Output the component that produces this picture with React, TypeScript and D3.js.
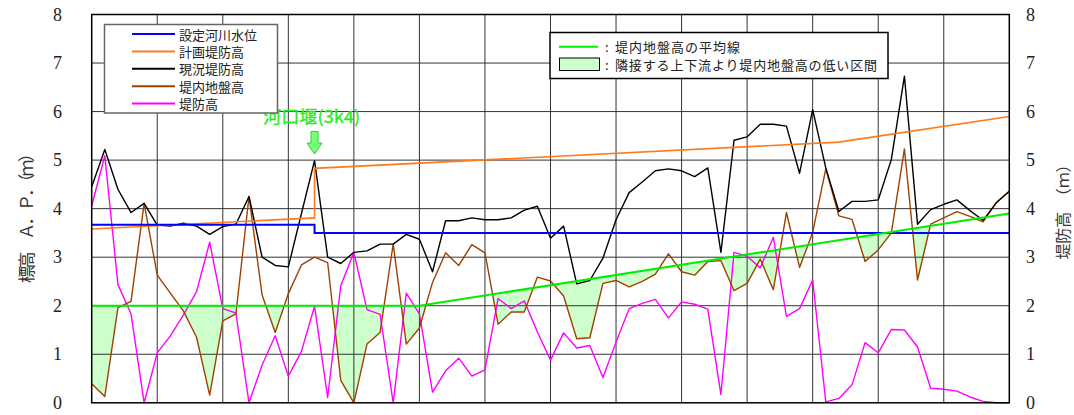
import React from "react";
import * as d3 from "d3";

// Station index along the river (71 survey points, 5 per grid column)
const stations = d3.range(71);

// 現況堤防高 (current levee crown)
const leveeCrown = [
  4.45, 5.22, 4.4, 3.92, 4.11, 3.66, 3.64, 3.7, 3.64, 3.47,
  3.63, 3.68, 4.25, 3.0, 2.83, 2.8, 3.9, 4.99, 3.0, 2.87,
  3.1, 3.13, 3.27, 3.27, 3.47, 3.37, 2.7, 3.75, 3.75, 3.81,
  3.77, 3.77, 3.81, 3.97, 4.05, 3.39, 3.64, 2.45, 2.52, 2.98,
  3.77, 4.33, 4.55, 4.78, 4.82, 4.78, 4.66, 4.84, 3.1, 5.41,
  5.48, 5.74, 5.74, 5.7, 4.73, 6.04, 4.84, 3.94, 4.15, 4.15,
  4.18, 5.01, 6.73, 3.68, 3.98, 4.09, 4.18, 3.96, 3.76, 4.12,
  4.36,
];

// 堤内地盤高 (landside ground level)
const groundLevel = [
  0.39, 0.13, 1.96, 2.09, 4.11, 2.63, 2.26, 1.89, 1.35, 0.16,
  1.69, 1.83, 4.25, 2.22, 1.45, 2.25, 2.84, 3.0, 2.89, 0.46,
  0.0, 1.21, 1.45, 3.27, 1.21, 1.54, 2.48, 3.09, 2.83, 3.26,
  3.09, 1.62, 1.87, 1.87, 2.59, 2.51, 2.2, 1.32, 1.34, 2.46,
  2.52, 2.39, 2.5, 2.65, 3.07, 2.7, 2.63, 2.91, 2.93, 2.31,
  2.46, 2.96, 2.33, 3.92, 2.79, 3.51, 4.82, 3.85, 3.78, 2.91,
  3.15, 3.5, 5.23, 2.53, 3.68, 3.81, 3.94, 3.84, 3.73, 4.12,
  4.36,
];

// 堤防高 (levee height above landside ground)
const leveeHeight = [
  4.06, 5.09, 2.44, 1.83, 0.0, 1.03, 1.38, 1.81, 2.29, 3.31,
  1.94, 1.85, 0.0, 0.78, 1.38, 0.55, 1.06, 1.99, 0.11, 2.41,
  3.1, 1.92, 1.82, 0.0, 2.26, 1.83, 0.22, 0.66, 0.92, 0.55,
  0.68, 2.15, 1.94, 2.1, 1.46, 0.88, 1.44, 1.13, 1.18, 0.52,
  1.25, 1.94, 2.05, 2.13, 1.75, 2.08, 2.03, 1.93, 0.17, 3.1,
  3.02, 2.78, 3.41, 1.78, 1.94, 2.53, 0.02, 0.09, 0.37, 1.24,
  1.03, 1.51, 1.5, 1.15, 0.3, 0.28, 0.24, 0.12, 0.03, 0.0,
  0.0,
];

// 設定河川水位 (design river water level, stepped)
const waterStations = [0, 17, 70];
const waterLevel = [3.67, 3.5, 3.5];

// 計画堤防高 (planned levee crown)
const planStations = [0, 17, 17, 57, 70];
const planLevee = [3.58, 3.81, 4.83, 5.37, 5.9];

// 堤内地盤高の平均線 (average landside ground line)
const avgStations = [0, 25, 70];
const avgGround = [2.0, 2.0, 3.9];

// Weir position
const weirStation = 17;
const weirLabel = "河口堰(3k4)";

const yTicks = [0, 1, 2, 3, 4, 5, 6, 7, 8];
const gridStations = d3.range(0, 71, 5);

const legendItems = [
  { label: "設定河川水位", color: "#0000ff" },
  { label: "計画堤防高", color: "#ff7a1a" },
  { label: "現況堤防高", color: "#000000" },
  { label: "堤内地盤高", color: "#a04000" },
  { label: "堤防高", color: "#ff00ff" },
];

const W = 1074;
const H = 415;
const plot = { left: 91.7, right: 1009.3, top: 14.5, bottom: 402.8 };

const JP = "'Noto Sans CJK JP', 'Noto Sans', sans-serif";
const SERIF = "'Liberation Serif', 'DejaVu Serif', serif";

export default function App() {
  const x = d3.scaleLinear().domain([0, 70]).range([plot.left, plot.right]);
  const y = d3.scaleLinear().domain([0, 8]).range([plot.bottom, plot.top]);

  const pts = (xs: number[], vs: number[]) => xs.map((s, i) => [s, vs[i]] as [number, number]);

  const line = d3
    .line<[number, number]>()
    .x((d) => x(d[0]))
    .y((d) => y(d[1]));
  const stepLine = d3
    .line<[number, number]>()
    .x((d) => x(d[0]))
    .y((d) => y(d[1]))
    .curve(d3.curveStepAfter);

  // Region below the average line, used as a clip
  const belowAvg = d3
    .area<[number, number]>()
    .x((d) => x(d[0]))
    .y0(y(0) + 2)
    .y1((d) => y(d[1]))(pts(avgStations, avgGround));

  // Region above the ground line; clipped to "below average" it gives the low sections
  const aboveGround = d3
    .area<[number, number]>()
    .x((d) => x(d[0]))
    .y0(y(8))
    .y1((d) => y(d[1]))(pts(stations, groundLevel));

  const wx = x(weirStation);

  return (
    <svg
      width={W}
      height={H}
      style={{ position: "absolute", left: 0, top: 0, background: "#fff" }}
    >
      <defs>
        <clipPath id="belowAvg">
          <path d={belowAvg ?? ""} />
        </clipPath>
      </defs>
      <rect x={0} y={0} width={W} height={H} fill="#fff" />

      {/* low sections */}
      <path d={aboveGround ?? ""} fill="#ccffcc" clipPath="url(#belowAvg)" />

      {/* grid */}
      {yTicks.slice(1, -1).map((t) => (
        <line key={"h" + t} x1={plot.left} x2={plot.right} y1={y(t)} y2={y(t)} stroke="#333" strokeWidth={1} />
      ))}
      {gridStations.slice(1, -1).map((s) => (
        <line key={"v" + s} x1={x(s)} x2={x(s)} y1={plot.top} y2={plot.bottom} stroke="#333" strokeWidth={1} />
      ))}

      {/* series */}
      <path d={line(pts(stations, leveeHeight)) ?? ""} fill="none" stroke="#ff00ff" strokeWidth={1.4} strokeLinejoin="round" />
      <path d={line(pts(stations, groundLevel)) ?? ""} fill="none" stroke="#a04000" strokeWidth={1.4} strokeLinejoin="round" />
      <path d={line(pts(stations, leveeCrown)) ?? ""} fill="none" stroke="#000" strokeWidth={1.4} strokeLinejoin="round" />
      <path d={line(pts(planStations, planLevee)) ?? ""} fill="none" stroke="#ff7a1a" strokeWidth={1.6} />
      <path d={stepLine(pts(waterStations, waterLevel)) ?? ""} fill="none" stroke="#0000ff" strokeWidth={2} />
      <path d={line(pts(avgStations, avgGround)) ?? ""} fill="none" stroke="#00ee00" strokeWidth={2} />

      {/* frame */}
      <rect
        x={plot.left}
        y={plot.top}
        width={plot.right - plot.left}
        height={plot.bottom - plot.top}
        fill="none"
        stroke="#000"
        strokeWidth={1.5}
      />

      {/* tick labels */}
      {yTicks.map((t) => (
        <text key={"l" + t} x={62} y={y(t)} textAnchor="end" dominantBaseline="central" fontFamily={SERIF} fontSize={18} fill="#222">
          {t}
        </text>
      ))}
      {yTicks.map((t) => (
        <text key={"r" + t} x={1026} y={y(t)} textAnchor="start" dominantBaseline="central" fontFamily={SERIF} fontSize={18} fill="#222">
          {t}
        </text>
      ))}

      {/* axis titles */}
      <text
        transform="translate(25,214) rotate(-90)"
        textAnchor="middle"
        dominantBaseline="central"
        fontFamily={JP}
        fontSize={17}
        fill="#333"
        textLength={138}
        lengthAdjust="spacing"
      >
        標高　Ａ．Ｐ．（ｍ）
      </text>
      <text
        transform="translate(1062,208) rotate(-90)"
        textAnchor="middle"
        dominantBaseline="central"
        fontFamily={JP}
        fontSize={16}
        fill="#333"
        textLength={103}
        lengthAdjust="spacing"
      >
        堤防高　（ｍ）
      </text>

      {/* weir annotation */}
      <text x={wx - 3} y={123} textAnchor="middle" fontFamily={JP} fontSize={17} fill="#22ee22" stroke="#22ee22" strokeWidth={0.3} textLength={97} lengthAdjust="spacingAndGlyphs">
        {weirLabel}
      </text>
      <path
        d={`M${wx - 3.5},131.5 L${wx + 3.5},131.5 L${wx + 3.5},143 L${wx + 7.5},143 L${wx},154 L${wx - 7.5},143 L${wx - 3.5},143 Z`}
        fill="#77ff77"
        stroke="#33cc33"
        strokeWidth={1}
      />

      {/* series legend */}
      <rect x={104.5} y={24.5} width={173} height={88.5} fill="#fff" stroke="#666" strokeWidth={1.5} />
      {legendItems.map((it, i) => {
        const cy = 34 + i * 17.4;
        return (
          <g key={it.label}>
            <line x1={132} x2={175} y1={cy} y2={cy} stroke={it.color} strokeWidth={2} />
            <text x={179} y={cy} dominantBaseline="central" fontFamily={JP} fontSize={13} fill="#222">
              {it.label}
            </text>
          </g>
        );
      })}

      {/* average / low-section legend */}
      <rect x={550} y={32.5} width={338} height={46} fill="#fff" stroke="#000" strokeWidth={1.5} />
      <line x1={559} x2={598} y1={46.7} y2={46.7} stroke="#00ee00" strokeWidth={2} />
      <text x={605} y={46.7} dominantBaseline="central" fontFamily={JP} fontSize={13} fill="#222">
        :
      </text>
      <text x={615} y={46.7} dominantBaseline="central" fontFamily={JP} fontSize={13} fill="#222" textLength={125} lengthAdjust="spacing">
        堤内地盤高の平均線
      </text>
      <rect x={559.5} y={58} width={40} height={12.5} fill="#ccffcc" stroke="#000" strokeWidth={1} />
      <text x={605} y={64.3} dominantBaseline="central" fontFamily={JP} fontSize={13} fill="#222">
        :
      </text>
      <text x={615} y={64.3} dominantBaseline="central" fontFamily={JP} fontSize={13} fill="#222" textLength={262} lengthAdjust="spacing">
        隣接する上下流より堤内地盤高の低い区間
      </text>
    </svg>
  );
}
